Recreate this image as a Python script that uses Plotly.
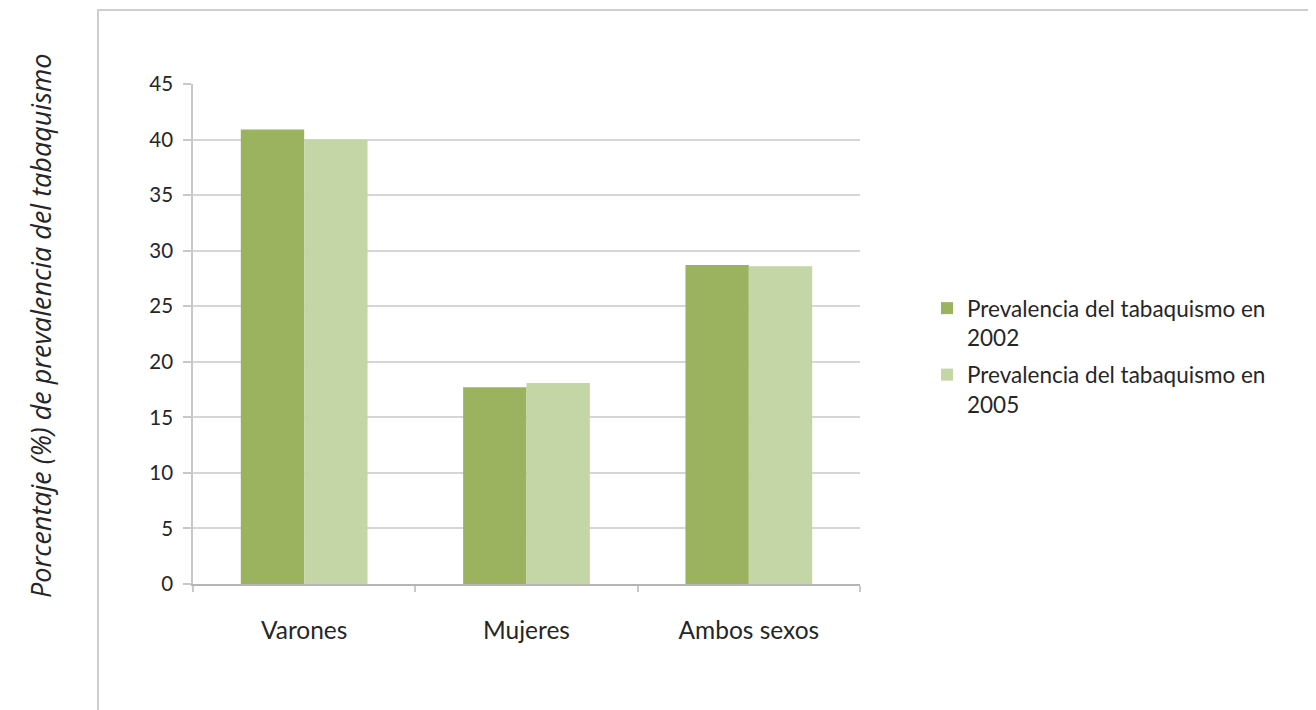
import plotly.graph_objects as go

categories = ["Varones", "Mujeres", "Ambos sexos"]
prev_2002 = [40.9, 17.7, 28.7]
prev_2005 = [40.0, 18.1, 28.6]
series_names = ["Prevalencia del tabaquismo en<br>2002", "Prevalencia del tabaquismo en<br>2005"]
y_title = "Porcentaje (%) de prevalencia del tabaquismo"

# page renders with an 8px body offset; compensate
OFF = 8
W, H = 1316, 710
L, R, T, B = 193 - OFF, 456 + OFF, 84 - OFF, 126 + OFF
pw, ph = W - L - R, H - T - B

def px_x(p):
    return (p - OFF - L) / pw

def px_y(p):
    return (H - B - (p - OFF)) / ph

fig = go.Figure()
fig.add_trace(go.Bar(x=categories, y=prev_2002, name=series_names[0], legendgroup="a",
                     marker=dict(color="#9bb25e", line=dict(width=0))))
fig.add_trace(go.Bar(x=categories, y=prev_2005, name=series_names[1], legendgroup="b",
                     marker=dict(color="#c4d5a6", line=dict(width=0))))

font_family = "Lato, Open Sans, sans-serif"

fig.update_layout(
    width=W, height=H,
    margin=dict(l=L, r=R, t=T, b=B, pad=0),
    paper_bgcolor="white", plot_bgcolor="white",
    barmode="group", bargap=0.43, bargroupgap=0,
    font=dict(family=font_family, size=19, color="#262626"),
    legend=dict(x=px_x(927), y=px_y(287), xanchor="left", yanchor="top",
                valign="top", font=dict(size=22.5, color="#262626"),
                tracegroupgap=5, itemsizing="constant", bgcolor="rgba(0,0,0,0)"),
    showlegend=True,
)
fig.update_yaxes(range=[0, 45], dtick=5, showgrid=True, gridcolor="#d6d6d6", gridwidth=1.5,
                 showline=True, linecolor="#c8c8c8", linewidth=1.5,
                 ticks="outside", ticklen=8, tickcolor="#c8c8c8", tickwidth=1.5,
                 zeroline=False, tickfont=dict(size=20.5), ticklabelstandoff=6)
fig.update_xaxes(showline=True, linecolor="#b4b4b4", linewidth=1.5,
                 ticks="outside", tickson="boundaries", ticklen=6, tickcolor="#c8c8c8", tickwidth=1.5,
                 tickfont=dict(size=24.5), ticklabelstandoff=24)

fig.add_shape(type="rect", xref="paper", yref="paper",
              x0=px_x(98), x1=px_x(1360), y0=px_y(760), y1=px_y(10),
              line=dict(color="#cfcfcf", width=2), fillcolor="rgba(0,0,0,0)", layer="below")

fig.add_annotation(text="<i>" + y_title + "</i>", xref="paper", yref="paper",
                   x=px_x(40), y=px_y(326), textangle=-90, showarrow=False,
                   xanchor="center", yanchor="middle",
                   font=dict(size=27, family="Open Sans, sans-serif", color="#262626"))

fig.write_html("out.html")
